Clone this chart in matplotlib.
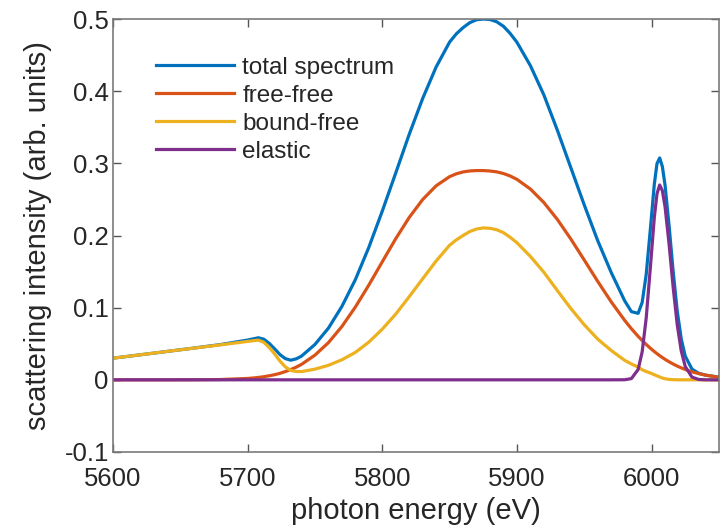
import matplotlib
matplotlib.use('Agg')
import matplotlib.pyplot as plt

# photon energy grid (eV) shared by all curves
energy = [5600, 5620, 5640, 5660, 5680, 5700, 5705, 5708, 5712, 5716,
          5720, 5724, 5728, 5732, 5736, 5740, 5750, 5760, 5770, 5780,
          5790, 5800, 5810, 5820, 5830, 5840, 5850, 5855, 5860, 5865,
          5870, 5875, 5880, 5885, 5890, 5895, 5900, 5910, 5920, 5930,
          5940, 5950, 5960, 5970, 5980, 5985, 5990, 5993, 5996, 5999,
          6002, 6004, 6006, 6008, 6010, 6013, 6016, 6019, 6022, 6025,
          6030, 6035, 6040, 6050]

free_free = [0.0000, 0.0000, 0.0000, 0.0001, 0.0004, 0.0019, 0.0027, 0.0033, 0.0043, 0.0056,
             0.0071, 0.0090, 0.0114, 0.0142, 0.0175, 0.0214, 0.0342, 0.0515, 0.0739, 0.1008,
             0.1313, 0.1636, 0.1956, 0.2250, 0.2499, 0.2689, 0.2816, 0.2855, 0.2881, 0.2895,
             0.2900, 0.2900, 0.2894, 0.2882, 0.2859, 0.2825, 0.2778, 0.2644, 0.2457, 0.2223,
             0.1952, 0.1660, 0.1364, 0.1081, 0.0824, 0.0708, 0.0603, 0.0545, 0.0490, 0.0439,
             0.0392, 0.0363, 0.0335, 0.0309, 0.0284, 0.0250, 0.0219, 0.0191, 0.0166, 0.0143,
             0.0111, 0.0086, 0.0065, 0.0036]

bound_free = [0.0300, 0.0346, 0.0393, 0.0439, 0.0485, 0.0532, 0.0544, 0.0550, 0.0520, 0.0450,
              0.0360, 0.0260, 0.0180, 0.0130, 0.0115, 0.0114, 0.0148, 0.0201, 0.0278, 0.0380,
              0.0522, 0.0702, 0.0911, 0.1152, 0.1400, 0.1647, 0.1865, 0.1940, 0.2000, 0.2055,
              0.2090, 0.2105, 0.2100, 0.2080, 0.2040, 0.1975, 0.1900, 0.1710, 0.1491, 0.1237,
              0.0989, 0.0763, 0.0564, 0.0407, 0.0270, 0.0220, 0.0175, 0.0140, 0.0115, 0.0095,
              0.0070, 0.0055, 0.0040, 0.0025, 0.0015, 0.0006, 0.0002, 0.0000, 0.0000, 0.0000,
              0.0000, 0.0000, 0.0000, 0.0000]

elastic = [0.0, 0.0, 0.0, 0.0, 0.0, 0.0, 0.0, 0.0, 0.0, 0.0,
           0.0, 0.0, 0.0, 0.0, 0.0, 0.0, 0.0, 0.0, 0.0, 0.0,
           0.0, 0.0, 0.0, 0.0, 0.0, 0.0, 0.0, 0.0, 0.0, 0.0,
           0.0, 0.0, 0.0, 0.0, 0.0, 0.0, 0.0, 0.0, 0.0, 0.0,
           0.0, 0.0, 0.0, 0.0, 0.0001, 0.0017, 0.0143, 0.0388, 0.0857, 0.1538,
           0.2247, 0.2579, 0.2700, 0.2621, 0.2397, 0.1876, 0.1284, 0.0768, 0.0402, 0.0184,
           0.0037, 0.0005, 0.0, 0.0]

total = [0.0300, 0.0346, 0.0393, 0.0440, 0.0489, 0.0551, 0.0571, 0.0583, 0.0563, 0.0506,
         0.0431, 0.0350, 0.0294, 0.0272, 0.0290, 0.0328, 0.0490, 0.0716, 0.1017, 0.1388,
         0.1835, 0.2338, 0.2867, 0.3402, 0.3899, 0.4336, 0.4681, 0.4795, 0.4881, 0.4950,
         0.4990, 0.5000, 0.4994, 0.4962, 0.4899, 0.4800, 0.4678, 0.4354, 0.3948, 0.3460,
         0.2941, 0.2423, 0.1928, 0.1488, 0.1095, 0.0945, 0.0921, 0.1073, 0.1462, 0.2072,
         0.2709, 0.2997, 0.3075, 0.2955, 0.2696, 0.2132, 0.1505, 0.0959, 0.0568, 0.0327,
         0.0148, 0.0091, 0.0065, 0.0036]

labels = ['total spectrum', 'free-free', 'bound-free', 'elastic']
colors = ['#0072BD', '#D95319', '#EDB120', '#7E2F8E']

plt.rcParams['font.family'] = ['Liberation Sans', 'DejaVu Sans']

fig = plt.figure(figsize=(7.24, 5.29), dpi=100)
ax = fig.add_axes([0.156, 0.1456, 0.837, 0.8184])

for series, lab, col in zip([total, free_free, bound_free, elastic], labels, colors):
    ax.plot(energy, series, color=col, lw=2.3, label=lab, solid_joinstyle='round')

ax.set_xlim(5600, 6050)
ax.set_ylim(-0.1, 0.5)
ax.set_xticks([5600, 5700, 5800, 5900, 6000])
ax.set_yticks([-0.1, 0, 0.1, 0.2, 0.3, 0.4, 0.5])
ax.set_yticklabels(['-0.1', '0', '0.1', '0.2', '0.3', '0.4', '0.5'])

ax.tick_params(direction='in', length=6, width=1, colors='#555555', labelcolor='#262626',
               labelsize=18.5, top=True, right=True)
ax.tick_params(axis='x', pad=11)
ax.tick_params(axis='y', pad=3)
for s in ax.spines.values():
    s.set_color('#7a7a7a')
    s.set_linewidth(1.2)

ax.set_xlabel('photon energy (eV)', fontsize=21, color='#262626', labelpad=4)
ax.set_ylabel('scattering intensity (arb. units)', fontsize=21, color='#262626', labelpad=9)

ax.legend(loc='upper left', bbox_to_anchor=(0.071, 0.913), frameon=False, fontsize=17.5,
          handlelength=3.2, handletextpad=0.35, labelspacing=0.25, borderpad=0, borderaxespad=0,
          labelcolor='#262626')

fig.savefig('out.png', dpi=100)
